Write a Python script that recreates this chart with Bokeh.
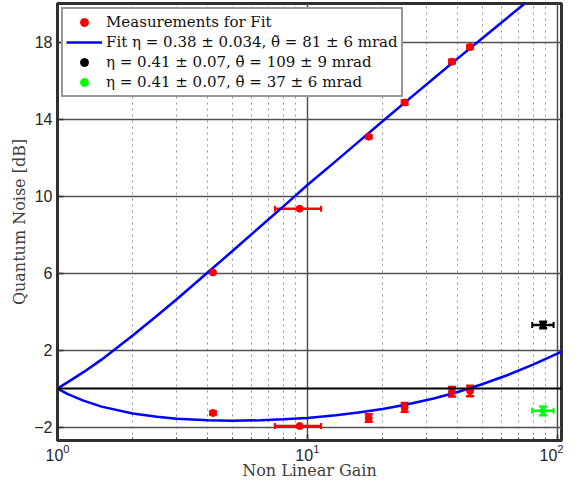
from bokeh.plotting import figure
from bokeh.models import (FixedTicker, Span, Whisker, TeeHead, ColumnDataSource,
                          Legend, LegendItem)
from bokeh.embed import file_html
from bokeh.resources import INLINE

# ---- Fit curves ----
fit_gain_anti = [1, 1.1, 1.27, 1.5, 2, 2.5, 3, 4, 5, 6.5, 8, 10, 13, 16, 20, 25, 32, 40, 50, 63, 75]
fit_anti_db = [0, 0.33, 0.85, 1.5, 2.75, 3.78, 4.64, 6.04, 7.13, 8.43, 9.45, 10.57, 11.81,
               12.81, 13.88, 14.94, 16.10, 17.15, 18.18, 19.25, 20.05]
fit_gain_sq = [1, 1.1, 1.27, 1.5, 2, 2.5, 3, 4, 5, 6.5, 8, 10, 13, 16, 20, 25, 32, 40, 50, 63,
               80, 100, 110]
fit_sq_db = [0, -0.29, -0.63, -0.94, -1.30, -1.47, -1.57, -1.65, -1.67, -1.65, -1.60, -1.53,
             -1.39, -1.25, -1.06, -0.83, -0.52, -0.18, 0.22, 0.69, 1.24, 1.81, 2.07]

# ---- Measurements used for the fit ----
meas_gain = [4.19, 9.31, 17.6, 24.5, 37.9, 44.8]
meas_gain_low = [4.19, 7.41, 17.6, 24.5, 37.9, 44.8]
meas_gain_high = [4.19, 11.35, 17.6, 24.5, 37.9, 44.8]
meas_anti_db = [6.03, 9.34, 13.08, 14.86, 16.98, 17.74]
meas_anti_err = [0.0, 0.0, 0.08, 0.1, 0.1, 0.1]
meas_sq_db = [-1.27, -1.95, -1.53, -0.98, -0.17, -0.13]
meas_sq_err = [0.08, 0.0, 0.2, 0.23, 0.25, 0.27]

# ---- Additional measurements ----
extra_gain = [87.8]
extra_gain_low = [79.4]
extra_gain_high = [96.7]
black_db = [3.3]
black_err = [0.17]
green_db = [-1.16]
green_err = [0.23]

y_ticks = [-2, 2, 6, 10, 14, 18]
zero_level = 0
x_min, x_max = 1, 104
x_title = "Non Linear Gain"
y_title = "Quantum Noise [dB]"

legend_labels = [
    "Measurements for Fit",
    "Fit η = 0.38 ± 0.034, θ\u0303 = 81 ± 6 mrad",
    "η = 0.41 ± 0.07, θ\u0303 = 109 ± 9 mrad",
    "η = 0.41 ± 0.07, θ\u0303 = 37 ± 6 mrad",
]

RED = "#FF0000"
BLUE = "#0000FF"
GREEN = "#00FF00"
BLACK = "#000000"
SERIF = "DejaVu Serif"
SANS = "Liberation Sans"

p = figure(width=563, height=482, x_axis_type="log", x_range=(x_min, x_max), y_range=(-2.7, 20),
           output_backend="svg", toolbar_location=None,
           min_border_left=57, min_border_right=2, min_border_top=3, min_border_bottom=10)

p.outline_line_color = "#303030"
p.outline_line_width = 3
p.background_fill_color = "white"
p.border_fill_color = "white"

# grids
p.xgrid.grid_line_color = "#505050"
p.xgrid.grid_line_width = 1.5
p.xgrid.minor_grid_line_color = "#959595"
p.xgrid.minor_grid_line_dash = "2 4"
p.xgrid.minor_grid_line_width = 1
p.ygrid.grid_line_color = "#505050"
p.ygrid.grid_line_width = 1.5
p.yaxis.ticker = FixedTicker(ticks=y_ticks, minor_ticks=[])
p.yaxis.major_label_overrides = {t: str(t).replace("-", "−") for t in y_ticks}

for ax in (p.xaxis[0], p.yaxis[0]):
    ax.axis_line_color = "#303030"
    ax.axis_line_width = 3
    ax.major_tick_in = 6
    ax.major_tick_out = 0
    ax.major_tick_line_color = "#303030"
    ax.major_tick_line_width = 1.5
    ax.minor_tick_in = 3
    ax.minor_tick_out = 0
    ax.minor_tick_line_color = "#303030"
    ax.major_label_text_font = SANS
    ax.major_label_text_font_size = "16px"
    ax.major_label_text_color = "#262626"
    ax.axis_label_text_font = SERIF
    ax.axis_label_text_font_size = "16px"
    ax.axis_label_text_font_style = "normal"
    ax.axis_label_text_color = "#404040"

p.xaxis.axis_label = x_title
p.yaxis.axis_label = y_title
p.xaxis.axis_label_standoff = -3
p.yaxis.axis_label_standoff = 2
p.xaxis.major_label_standoff = 3
p.yaxis.major_label_standoff = 5

p.add_layout(Span(location=zero_level, dimension="width", line_color=BLACK, line_width=2))

# fit curves
r_fit = p.line(fit_gain_anti, fit_anti_db, line_color=BLUE, line_width=2.5)
p.line(fit_gain_sq, fit_sq_db, line_color=BLUE, line_width=2.5)


def add_yerr(xs, ys, errs, color, size=8):
    keep = [i for i, e in enumerate(errs) if e > 0]
    if not keep:
        return
    src = ColumnDataSource(dict(
        x=[xs[i] for i in keep],
        lower=[ys[i] - errs[i] for i in keep],
        upper=[ys[i] + errs[i] for i in keep]))
    p.add_layout(Whisker(source=src, base="x", lower="lower", upper="upper",
                         dimension="height", line_color=color, line_width=2.5,
                         upper_head=TeeHead(size=size, line_color=color, line_width=2.5),
                         lower_head=TeeHead(size=size, line_color=color, line_width=2.5)))


def add_xerr(lows, highs, ys, color, size=6):
    keep = [i for i in range(len(lows)) if highs[i] > lows[i]]
    if not keep:
        return
    src = ColumnDataSource(dict(
        y=[ys[i] for i in keep],
        lower=[lows[i] for i in keep],
        upper=[highs[i] for i in keep]))
    p.add_layout(Whisker(source=src, base="y", lower="lower", upper="upper",
                         dimension="width", line_color=color, line_width=2.5,
                         upper_head=TeeHead(size=size, line_color=color, line_width=2),
                         lower_head=TeeHead(size=size, line_color=color, line_width=2)))


add_yerr(meas_gain, meas_anti_db, meas_anti_err, RED)
add_yerr(meas_gain, meas_sq_db, meas_sq_err, RED)
add_xerr(meas_gain_low, meas_gain_high, meas_anti_db, RED)
add_xerr(meas_gain_low, meas_gain_high, meas_sq_db, RED)
add_yerr(extra_gain, black_db, black_err, BLACK)
add_xerr(extra_gain_low, extra_gain_high, black_db, BLACK)
add_yerr(extra_gain, green_db, green_err, GREEN)
add_xerr(extra_gain_low, extra_gain_high, green_db, GREEN)

r_meas = p.scatter(meas_gain + meas_gain, meas_anti_db + meas_sq_db, size=7,
                   marker="circle", fill_color=RED, line_color=RED)
r_black = p.scatter(extra_gain, black_db, size=6, marker="circle",
                    fill_color=BLACK, line_color=BLACK)
r_green = p.scatter(extra_gain, green_db, size=6, marker="circle",
                    fill_color=GREEN, line_color=GREEN)

legend = Legend(items=[
    LegendItem(label=legend_labels[0], renderers=[r_meas]),
    LegendItem(label=legend_labels[1], renderers=[r_fit]),
    LegendItem(label=legend_labels[2], renderers=[r_black]),
    LegendItem(label=legend_labels[3], renderers=[r_green]),
], location="top_left")
legend.label_text_font = SERIF
legend.label_text_font_size = "15px"
legend.label_text_color = "#111111"
legend.label_height = 20
legend.glyph_height = 20
legend.glyph_width = 36
legend.label_standoff = 4
legend.spacing = 0
legend.padding = 3
legend.margin = 4
legend.border_line_color = "#303030"
legend.border_line_width = 2.5
legend.background_fill_color = "white"
legend.background_fill_alpha = 1.0
p.add_layout(legend)

open("out.html", "w").write(file_html(p, INLINE))
